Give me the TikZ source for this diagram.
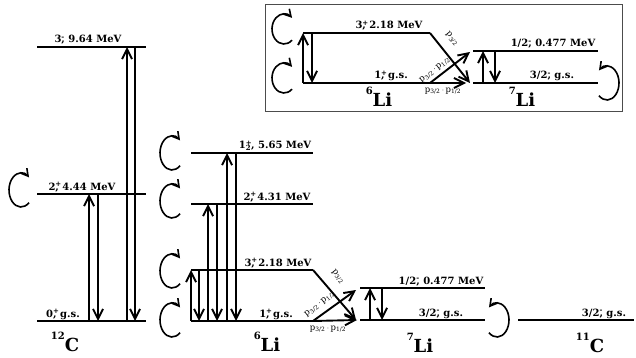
\documentclass[tikz,border=0pt]{standalone}
\usepackage{fontspec}
\setmainfont{DejaVu Serif}
\usetikzlibrary{arrows.meta}

\newcommand{\nucl}[2]{\raisebox{12pt}{\fontsize{10}{10}\selectfont #1}#2}
\newcommand{\jpi}[2]{#1\rlap{\textsuperscript{#2}},}

\tikzset{
  level/.style={line width=2.8pt},
  trans/.style={line width=1.9pt,-{Straight Barb[length=10pt,width=10pt]}},
  spin/.style={line width=1.6pt,-{Straight Barb[length=7pt,width=8pt]}},
  lab/.style={font=\bfseries\fontsize{10}{12}\selectfont,inner sep=0pt,anchor=base},
  nuc/.style={font=\bfseries\fontsize{18}{20}\selectfont,inner sep=0pt,anchor=base},
  pw/.style={font=\fontsize{8.5}{9}\selectfont,inner sep=0pt},
}

\begin{document}
\begin{tikzpicture}[x=1pt,y=-1pt]
    \useasboundingbox (0,0) rectangle (636,358);

    % 12C levels
    \coordinate (c0) at (37,321);  \coordinate (c0r) at (146,321);
    \coordinate (c2) at (37,194);  \coordinate (c2r) at (146,194);
    \coordinate (c3) at (37,47);   \coordinate (c3r) at (146,47);
    \draw [level] (c0) -- (c0r);
    \draw [level] (c2) -- (c2r);
    \draw [level] (c3) -- (c3r);
    \draw [trans] ([xshift=52]c0) -- ([xshift=52]c2);
    \draw [trans] ([xshift=61]c2) -- ([xshift=61]c0);
    \draw [trans] ([xshift=90]c0) -- ([xshift=90]c3);
    \draw [trans] ([xshift=98]c3) -- ([xshift=98]c0);
    \draw [spin] (21,190) ++(48:12 and 17) arc [start angle=48, end angle=312, x radius=12, y radius=17];

    \node [lab] (tc3) at (88,43) {\jpi{3}{-} 9.64 MeV};
    \node [lab] (tc2) at (82,190) {\jpi{2}{+} 4.44 MeV};
    \node [lab] (tc0) at (63,317) {\jpi{0}{+} g.s.};
    \node [nuc] (nc) at (65,351) {\nucl{12}{C}};

    % 6Li levels
    \coordinate (l0) at (191,321);  \coordinate (l0r) at (313,321);
    \coordinate (l3) at (191,270);  \coordinate (l3r) at (313,270);
    \coordinate (l2) at (191,204);  \coordinate (l2r) at (313,204);
    \coordinate (l1) at (191,153);  \coordinate (l1r) at (313,153);
    \draw [level] (l0) -- (l0r);
    \draw [level] (l3) -- (l3r);
    \draw [level] (l2) -- (l2r);
    \draw [level] (l1) -- (l1r);
    \draw [trans] (l0) -- (l3);
    \draw [trans] ([xshift=8]l3) -- ([xshift=8]l0);
    \draw [trans] ([xshift=17]l0) -- ([xshift=17]l2);
    \draw [trans] ([xshift=26]l2) -- ([xshift=26]l0);
    \draw [trans] ([xshift=36]l0) -- ([xshift=36]l1);
    \draw [trans] ([xshift=45]l1) -- ([xshift=45]l0);
    \foreach \yy in {153,201,271,320}
        \draw [spin] (172,\yy) ++(48:12 and 17) arc [start angle=48, end angle=312, x radius=12, y radius=17];

    \node [lab] (tl1) at (275,149) {1\rlap{\textsuperscript{+}}\textsubscript{2}, 5.65 MeV};
    \node [lab] (tl2) at (277,200) {\jpi{2}{+} 4.31 MeV};
    \node [lab] (tl3) at (278,266) {\jpi{3}{+} 2.18 MeV};
    \node [lab] (tl0) at (276,317) {\jpi{1}{+} g.s.};
    \node [nuc] (nl) at (267,351) {\nucl{6}{Li}};

    % 7Li levels
    \coordinate (m0) at (360,320);  \coordinate (m0r) at (485,320);
    \coordinate (m1) at (360,288);  \coordinate (m1r) at (485,288);
    \coordinate (pu) at (356,290);
    \draw [level] (m0) -- (m0r);
    \draw [level] (m1) -- (m1r);
    \draw [trans] ([xshift=10]m0) -- ([xshift=10]m1);
    \draw [trans] ([xshift=22]m1) -- ([xshift=22]m0);
    \draw [spin] (497,320) ++(132:12 and 17) arc [start angle=132, end angle=-132, x radius=12, y radius=17];

    \draw [trans] (l3r) -- ([xshift=-4]m0);
    \draw [trans] (l0r) -- (pu);
    \draw [trans] (l0r) -- ([xshift=-3]m0);
    \node [pw, rotate=-51] (pa) at (338,277) {p\textsubscript{3/2}};
    \node [pw, rotate=38] (pb) at (320,304) {p\textsubscript{3/2}\,$\cdot$\,p\textsubscript{1/2}};
    \node [pw] (pc) at (328,329) {p\textsubscript{3/2}\,$\cdot$\,p\textsubscript{1/2}};

    \node [lab] (tm1) at (441,284) {1/2\rlap{\textsuperscript{-}}, 0.477 MeV};
    \node [lab] (tm0) at (441,316) {3/2\rlap{\textsuperscript{-}}, g.s.};
    \node [nuc] (nm) at (420,352) {\nucl{7}{Li}};

    % 11C level
    \coordinate (k0) at (518,320);  \coordinate (k0r) at (634,320);
    \draw [level] (k0) -- (k0r);
    \node [lab] (tk0) at (604,316) {3/2\rlap{\textsuperscript{-}}, g.s.};
    \node [nuc] (nk) at (590,352) {\nucl{11}{C}};

    % inset
    \draw [line width=0.8pt, black!70] (265,4) rectangle (622,111);
    \coordinate (i0) at (303,83);  \coordinate (i0r) at (430,83);
    \coordinate (i3) at (303,33);  \coordinate (i3r) at (430,33);
    \coordinate (j0) at (473,83);  \coordinate (j0r) at (598,83);
    \coordinate (j1) at (473,51);  \coordinate (j1r) at (598,51);
    \coordinate (qu) at (470,52);
    \draw [level] (i0) -- (i0r);
    \draw [level] (i3) -- (i3r);
    \draw [level] (j0) -- (j0r);
    \draw [level] (j1) -- (j1r);
    \draw [trans] (i0) -- (i3);
    \draw [trans] ([xshift=9]i3) -- ([xshift=9]i0);
    \draw [trans] ([xshift=10]j0) -- ([xshift=10]j1);
    \draw [trans] ([xshift=22]j1) -- ([xshift=22]j0);
    \draw [trans] (i3r) -- ([xshift=-3]j0);
    \draw [trans] (i0r) -- (qu);
    \draw [trans] (i0r) -- ([xshift=-7]j0);
    \draw [spin] (284,29) ++(48:12 and 15) arc [start angle=48, end angle=312, x radius=12, y radius=15];
    \draw [spin] (284,78) ++(48:12 and 15) arc [start angle=48, end angle=312, x radius=12, y radius=15];
    \draw [spin] (607,83) ++(132:12 and 17) arc [start angle=132, end angle=-132, x radius=12, y radius=17];

    \node [pw, rotate=-50] (qa) at (452,39) {p\textsubscript{3/2}};
    \node [pw, rotate=38] (qb) at (435,70) {p\textsubscript{3/2}\,$\cdot$\,p\textsubscript{1/2}};
    \node [pw] (qc) at (443,91) {p\textsubscript{3/2}\,$\cdot$\,p\textsubscript{1/2}};
    \node [lab] (ti3) at (389,29) {\jpi{3}{+} 2.18 MeV};
    \node [lab] (ti0) at (391,79) {\jpi{1}{+} g.s.};
    \node [lab] (tj1) at (553,47) {1/2\rlap{\textsuperscript{-}}, 0.477 MeV};
    \node [lab] (tj0) at (552,79) {3/2\rlap{\textsuperscript{-}}, g.s.};
    \node [nuc] (ni) at (379,107) {\nucl{6}{Li}};
    \node [nuc] (nj) at (522,107) {\nucl{7}{Li}};
\end{tikzpicture}
\end{document}
